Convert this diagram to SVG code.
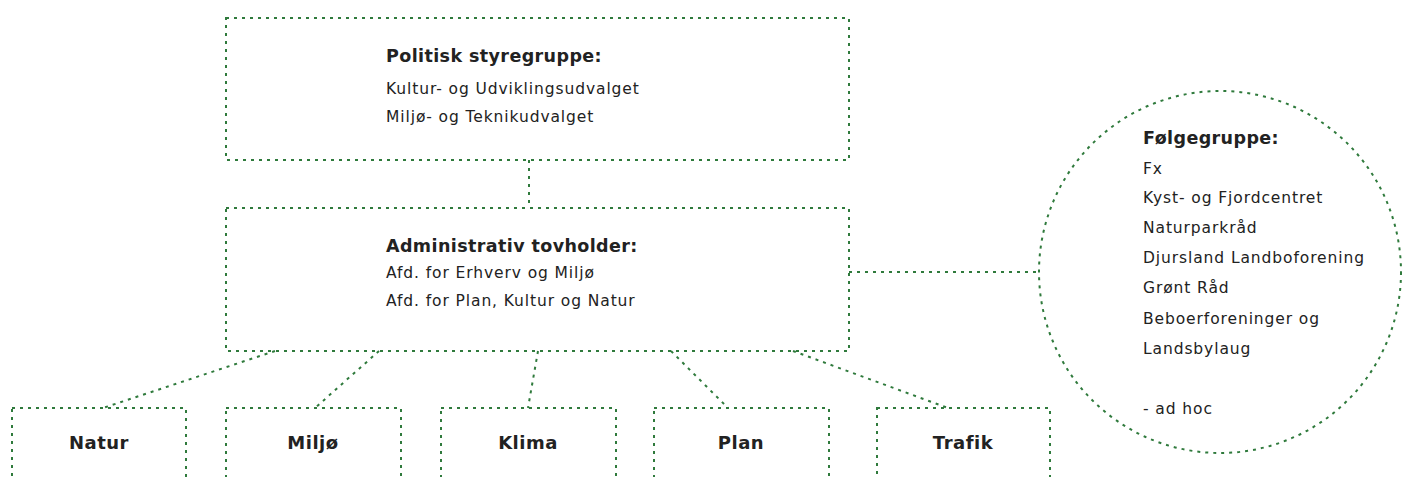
<svg xmlns="http://www.w3.org/2000/svg" width="1404" height="477" viewBox="0 0 1404 477">
<style>
.box{fill:none;stroke:#2f7a3c;stroke-width:2;stroke-dasharray:3 5}
.con{fill:none;stroke:#2f7a3c;stroke-width:2;stroke-dasharray:3 5}
text{font-family:"DejaVu Sans","Liberation Sans",sans-serif;fill:#222}
.t{font-size:17.5px;font-weight:bold;letter-spacing:0.4px}
.b{font-size:15.5px;letter-spacing:0.9px}
.lab{font-size:18px;font-weight:bold;letter-spacing:0.5px;text-anchor:middle}
</style>
<rect width="1404" height="477" fill="#fff"/>
<g id="connectors">
<line class="con" x1="529" y1="160" x2="529" y2="208"/>
<line class="con" x1="849" y1="272" x2="1039" y2="272"/>
<line class="con" x1="275" y1="351" x2="103" y2="408"/>
<line class="con" x1="379" y1="351" x2="315" y2="408"/>
<line class="con" x1="538" y1="351" x2="528" y2="408"/>
<line class="con" x1="671" y1="351" x2="728" y2="408"/>
<line class="con" x1="793" y1="351" x2="948" y2="408"/>
</g>
<g id="politisk">
<rect class="box" x="226" y="18" width="623" height="142"/>
<text class="t" x="386" y="62">Politisk styregruppe:</text>
<text class="b" x="386" y="94">Kultur- og Udviklingsudvalget</text>
<text class="b" x="386" y="122">Miljø- og Teknikudvalget</text>
</g>
<g id="administrativ">
<rect class="box" x="226" y="208" width="623" height="143"/>
<text class="t" x="386" y="252">Administrativ tovholder:</text>
<text class="b" x="386" y="278">Afd. for Erhverv og Miljø</text>
<text class="b" x="386" y="306">Afd. for Plan, Kultur og Natur</text>
</g>
<g id="folgegruppe">
<circle class="box" cx="1220" cy="272" r="181"/>
<text class="t" x="1143" y="144">Følgegruppe:</text>
<text class="b" x="1143" y="174">Fx</text>
<text class="b" x="1143" y="203">Kyst- og Fjordcentret</text>
<text class="b" x="1143" y="233">Naturparkråd</text>
<text class="b" x="1143" y="263">Djursland Landboforening</text>
<text class="b" x="1143" y="293">Grønt Råd</text>
<text class="b" x="1143" y="324">Beboerforeninger og</text>
<text class="b" x="1143" y="354">Landsbylaug</text>
<text class="b" x="1143" y="414">- ad hoc</text>
</g>
<g id="natur">
<rect class="box" x="12" y="408" width="174" height="80"/>
<text class="lab" x="99" y="449">Natur</text>
</g>
<g id="miljo">
<rect class="box" x="226" y="408" width="175" height="80"/>
<text class="lab" x="313" y="449">Miljø</text>
</g>
<g id="klima">
<rect class="box" x="441" y="408" width="175" height="80"/>
<text class="lab" x="528" y="449">Klima</text>
</g>
<g id="plan">
<rect class="box" x="654" y="408" width="175" height="80"/>
<text class="lab" x="741" y="449">Plan</text>
</g>
<g id="trafik">
<rect class="box" x="877" y="408" width="173" height="80"/>
<text class="lab" x="963" y="449">Trafik</text>
</g>
</svg>
